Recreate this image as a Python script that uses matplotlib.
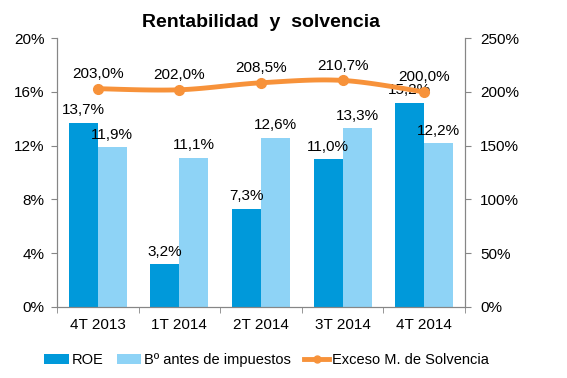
import numpy as np
import matplotlib.pyplot as plt

plt.rcParams['font.family'] = ['Liberation Sans', 'DejaVu Sans']

# datos
periodos = ["4T 2013", "1T 2014", "2T 2014", "3T 2014", "4T 2014"]
roe = [13.7, 3.2, 7.3, 11.0, 15.2]
beneficio = [11.9, 11.1, 12.6, 13.3, 12.2]
solvencia = [203.0, 202.0, 208.5, 210.7, 200.0]

c_roe = '#0099DA'
c_ben = '#8ED3F6'
c_sol = '#F7923A'
c_eje = '#868686'


def fmt(v):
    return f"{v:.1f}%".replace('.', ',')


# curva suavizada tipo Excel (Catmull-Rom) entre los puntos reales
def suavizar(x, y, n=30):
    x = np.asarray(x, float)
    y = np.asarray(y, float)
    px = np.concatenate([[x[0]], x, [x[-1]]])
    py = np.concatenate([[y[0]], y, [y[-1]]])
    xs, ys = [], []
    t = np.linspace(0, 1, n)
    for i in range(1, len(px) - 2):
        for p, out in ((px, xs), (py, ys)):
            p0, p1, p2, p3 = p[i - 1], p[i], p[i + 1], p[i + 2]
            out.extend(0.5 * ((2 * p1) + (-p0 + p2) * t
                              + (2 * p0 - 5 * p1 + 4 * p2 - p3) * t ** 2
                              + (-p0 + 3 * p1 - 3 * p2 + p3) * t ** 3))
    return xs, ys


fig = plt.figure(figsize=(5.67, 3.78), dpi=100)
ax = fig.add_axes([0.1005, 0.188, 0.7195, 0.711])
ax2 = ax.twinx()

x = np.arange(len(periodos))
w = 0.355
ax.bar(x - w / 2, roe, w, color=c_roe, label='ROE', zorder=2)
ax.bar(x + w / 2, beneficio, w, color=c_ben, label='Bº antes de impuestos', zorder=2)

for xi, v in zip(x, roe):
    ax.text(xi - w / 2, v + 0.4, fmt(v), ha='center', va='bottom', fontsize=11)
for xi, v in zip(x, beneficio):
    ax.text(xi + w / 2, v + 0.4, fmt(v), ha='center', va='bottom', fontsize=11)

sx, sy = suavizar(x, solvencia)
ax2.plot(sx, sy, color=c_sol, lw=3.5, solid_capstyle='round', zorder=3)
ax2.plot(x, solvencia, 'o', color=c_sol, ms=7, zorder=4)
ax2.plot([], [], '-o', color=c_sol, lw=3.5, ms=5, label='Exceso M. de Solvencia')
for xi, v in zip(x, solvencia):
    ax2.text(xi, v + 7, fmt(v), ha='center', va='bottom', fontsize=11)

ax.set_xlim(-0.5, len(periodos) - 0.5)
ax.set_ylim(0, 20)
ax2.set_ylim(0, 250)
ax.set_yticks(np.arange(0, 21, 4))
ax.set_yticklabels([f"{v}%" for v in range(0, 21, 4)])
ax2.set_yticks(np.arange(0, 251, 50))
ax2.set_yticklabels([f"{v}%" for v in range(0, 251, 50)])
ax.set_xticks(x)
ax.set_xticklabels(periodos)
ax.set_xticks(np.arange(-0.5, len(periodos), 1), minor=True)

for a in (ax, ax2):
    a.spines['top'].set_visible(False)
    for s in ('left', 'right', 'bottom'):
        a.spines[s].set_color(c_eje)
    a.tick_params(labelsize=11, colors=c_eje, labelcolor='black', length=4)
ax.tick_params(axis='x', which='major', length=0, pad=8)
ax.tick_params(axis='x', which='minor', length=4, color=c_eje)
ax.tick_params(axis='y', pad=5)
ax2.tick_params(axis='y', pad=7)

ax.set_title('Rentabilidad  y  solvencia', fontsize=14, fontweight='bold', pad=8)

h1, l1 = ax.get_legend_handles_labels()
h2, l2 = ax2.get_legend_handles_labels()
fig.legend(h1 + h2, l1 + l2, loc='lower center', ncol=3, frameon=False,
           fontsize=10.5, bbox_to_anchor=(0.47, -0.005), handlelength=1.7,
           handletextpad=0.2, columnspacing=0.9)

fig.savefig('out.png', dpi=100)
